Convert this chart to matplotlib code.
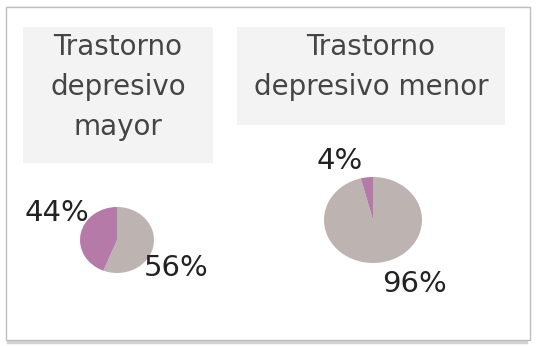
import matplotlib
matplotlib.use("Agg")
import matplotlib.pyplot as plt
from matplotlib.patches import Rectangle

titles = [["Trastorno", "depresivo", "mayor"], ["Trastorno", "depresivo menor"]]
values_mayor = [56, 44]   # gray, purple
values_menor = [96, 4]
colors = ["#bdb4b1", "#b57aa7"]

W, H = 538, 346
fig = plt.figure(figsize=(W / 100, H / 100), dpi=100)
fig.patch.set_facecolor("white")

def fx(x):
    return x / W

def fy(y):
    return 1 - y / H

# frame with soft shadow
fig.patches.append(Rectangle((fx(8), fy(342)), fx(526) - fx(8), fy(8) - fy(342),
                             transform=fig.transFigure, facecolor="none",
                             edgecolor="#d4d4d4", linewidth=2.5, zorder=-2))
fig.patches.append(Rectangle((fx(6), fy(340)), fx(530) - fx(6), fy(7) - fy(340),
                             transform=fig.transFigure, facecolor="white",
                             edgecolor="#bdbdbd", linewidth=1.0, zorder=-1))

# title boxes
boxes = [(23, 27, 213, 163), (237, 27, 505, 125)]
for (x0, y0, x1, y1) in boxes:
    fig.patches.append(Rectangle((fx(x0), fy(y1)), fx(x1) - fx(x0), fy(y0) - fy(y1),
                                 transform=fig.transFigure, facecolor="#f3f3f3",
                                 edgecolor="none", zorder=-0.5))

baselines = [55, 95, 135]
for (x0, y0, x1, y1), lines in zip(boxes, titles):
    cx = (x0 + x1) / 2
    for line, b in zip(lines, baselines):
        fig.text(fx(cx), fy(b), line, ha="center", va="baseline",
                 fontsize=20, color="#454545", family="DejaVu Sans", zorder=3)

def draw_pie(cx, cy, rx, ry, vals, label_pos):
    ax = fig.add_axes([fx(cx - rx), fy(cy + ry), 2 * rx / W, 2 * ry / H])
    ax.set_zorder(2)
    ax.patch.set_visible(False)
    ax.pie(vals, colors=colors, startangle=90, counterclock=False,
           wedgeprops=dict(linewidth=0))
    ax.set_aspect("auto")
    ax.set_xlim(-1, 1)
    ax.set_ylim(-1, 1)
    ax.axis("off")
    for v, (lx, ly) in zip(vals, label_pos):
        fig.text(fx(lx), fy(ly), f"{v}%", ha="center", va="center",
                 fontsize=21, color="#222222", family="DejaVu Sans", zorder=4)

draw_pie(117, 240, 37, 33, values_mayor, [(176, 268), (57, 213)])
draw_pie(373, 220, 49, 43, values_menor, [(415, 284), (340, 161)])

fig.savefig("out.png", dpi=100)
